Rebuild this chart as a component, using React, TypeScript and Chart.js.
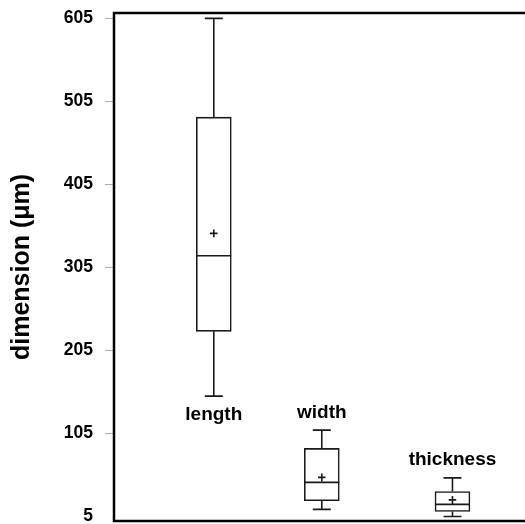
import React, { useEffect, useRef } from "react";
import { Chart, registerables } from "chart.js";

Chart.register(...registerables);

// ---- data ----
const categories = ["length", "width", "thickness"];
const whiskerMin = [150, 13.5, 5];
const q1 = [228, 24, 11];
const median = [319, 46, 19.5];
const q3 = [486, 87, 35];
const whiskerMax = [605, 109, 51.5];
const mean = [346, 52, 25];
const yTicks = [5, 105, 205, 305, 405, 505, 605];
const yTitle = "dimension (\u03bcm)";

// category placement along the (hidden) x axis and label side
const categoryPos = [1, 2, 3.21];
const labelSide = ["below", "above", "above"];

const FONT = '"Liberation Sans", Arial, Helvetica, sans-serif';
const INK = "#1a1a1a";

const boxPlugin = {
  id: "boxDecor",
  afterDatasetsDraw(chart: any) {
    const { ctx, scales } = chart;
    const x = scales.x;
    const y = scales.y;
    const meta = chart.getDatasetMeta(0);
    ctx.save();
    ctx.strokeStyle = INK;
    ctx.lineWidth = 1.6;
    categories.forEach((name, i) => {
      const bar = meta.data[i];
      const cx = x.getPixelForValue(categoryPos[i]);
      const half = bar.width / 2;
      const capHalf = 9;
      const yMin = y.getPixelForValue(whiskerMin[i]);
      const yQ1 = y.getPixelForValue(q1[i]);
      const yMed = y.getPixelForValue(median[i]);
      const yQ3 = y.getPixelForValue(q3[i]);
      const yMax = y.getPixelForValue(whiskerMax[i]);
      const yMean = y.getPixelForValue(mean[i]);
      ctx.beginPath();
      // whiskers
      ctx.moveTo(cx, yQ3);
      ctx.lineTo(cx, yMax);
      ctx.moveTo(cx - capHalf, yMax);
      ctx.lineTo(cx + capHalf, yMax);
      ctx.moveTo(cx, yQ1);
      ctx.lineTo(cx, yMin);
      ctx.moveTo(cx - capHalf, yMin);
      ctx.lineTo(cx + capHalf, yMin);
      // median
      ctx.moveTo(cx - half, yMed);
      ctx.lineTo(cx + half, yMed);
      // mean plus
      ctx.moveTo(cx - 3.8, yMean);
      ctx.lineTo(cx + 3.8, yMean);
      ctx.moveTo(cx, yMean - 3.8);
      ctx.lineTo(cx, yMean + 3.8);
      ctx.stroke();

      // category label
      ctx.fillStyle = "#000";
      ctx.font = `bold 19px ${FONT}`;
      ctx.textAlign = "center";
      ctx.textBaseline = "alphabetic";
      const ly = labelSide[i] === "below" ? yMin + 24 : yMax - 12.5;
      ctx.fillText(name, cx, ly);
    });
    ctx.restore();
  },
  afterDraw(chart: any) {
    const { ctx, chartArea } = chart;
    ctx.save();
    ctx.strokeStyle = "#000";
    ctx.lineWidth = 2.5;
    ctx.lineJoin = "miter";
    ctx.beginPath();
    ctx.moveTo(chart.width + 10, chartArea.top);
    ctx.lineTo(chartArea.left, chartArea.top);
    ctx.lineTo(chartArea.left, chartArea.bottom);
    ctx.lineTo(chart.width + 10, chartArea.bottom);
    ctx.stroke();
    ctx.restore();
  },
};

export default function App() {
  const ref = useRef<HTMLCanvasElement | null>(null);
  useEffect(() => {
    if (!ref.current) return;
    const tickCol = (c: any) =>
      c.tick && c.tick.value === 5 ? "rgba(0,0,0,0)" : "#aaa";
    const chart = new Chart(ref.current, {
      type: "bar",
      data: {
        datasets: [
          {
            data: categories.map((_, i) => ({ x: categoryPos[i], y: [q1[i], q3[i]] })) as any,
            backgroundColor: "#fff",
            borderColor: INK,
            borderWidth: 1.6,
            borderSkipped: false,
            barThickness: 35,
          },
        ],
      },
      options: {
        animation: false,
        responsive: false,
        maintainAspectRatio: false,
        layout: { padding: { top: 13, bottom: 3, left: 0, right: 0 } },
        plugins: { legend: { display: false }, tooltip: { enabled: false } },
        scales: {
          x: { type: "linear", display: false, min: 0.076, max: 3.8816, offset: false },
          y: {
            min: -0.5,
            max: 611.5,
            afterBuildTicks: (s: any) => {
              s.ticks = yTicks.map((v) => ({ value: v }));
            },
            afterFit: (s: any) => {
              s.width = 114;
              s.paddingTop = 0;
              s.paddingBottom = 0;
            },
            border: { display: false },
            grid: {
              drawOnChartArea: false,
              drawTicks: true,
              tickLength: 9,
              color: tickCol,
              tickColor: tickCol,
              lineWidth: 1,
            },
            ticks: {
              padding: 12,
              color: "#000",
              autoSkip: false,
              font: { family: FONT, size: 17.5, weight: "bold" },
            },
            title: {
              display: true,
              text: yTitle,
              color: "#000",
              font: { family: FONT, size: 25, weight: "bold" },
              padding: { top: 7, bottom: 0 },
            },
          },
        },
      } as any,
      plugins: [boxPlugin],
    });
    return () => chart.destroy();
  }, []);
  return (
    <div style={{ position: "fixed", left: 0, top: 0, width: 525, height: 524, background: "#fff" }}>
      <canvas ref={ref} width={525} height={524} style={{ display: "block" }} />
    </div>
  );
}
